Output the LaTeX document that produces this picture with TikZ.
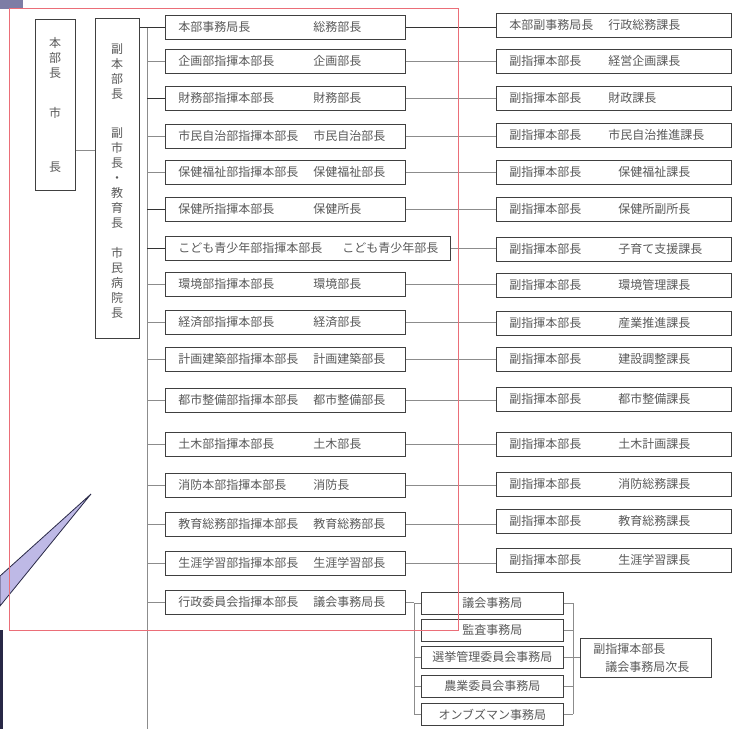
\documentclass[tikz,border=0pt]{standalone}
\usepackage{fontspec}
\setmainfont{Noto Sans CJK JP}
\definecolor{redframe}{RGB}{235,110,120}
\definecolor{callfill}{RGB}{190,185,230}
\definecolor{calldraw}{RGB}{40,40,70}
\definecolor{cornerpurple}{RGB}{125,125,165}
\tikzset{
  box/.style={draw=black!75, line width=0.8pt, anchor=north west, minimum height=24pt,
    inner xsep=13pt, inner ysep=0pt, align=left, text width=214pt,
    font=\fontsize{12}{14}\selectfont, text=black!65},
  rbox/.style={box, text width=209pt},
  sbox/.style={draw=black!75, line width=0.8pt, anchor=north west, minimum width=142pt,
    minimum height=22pt, inner sep=0pt, font=\fontsize{12}{14}\selectfont, text=black!65},
  vbox/.style={draw=black!75, line width=0.8pt, anchor=north west, inner sep=0pt},
  vtext/.style={align=center, inner sep=0pt, font=\fontsize{12}{15}\selectfont, text=black!65},
  link/.style={draw=black!45, line width=0.6pt},
  dklink/.style={draw=black!80, line width=0.7pt}
}
\begin{document}
\begin{tikzpicture}[x=1pt, y=-1pt]
\useasboundingbox (0,0) rectangle (735,729);
% Marks at the edges
\fill[cornerpurple] (0,0) rectangle (23,9);
\filldraw[fill=callfill, draw=calldraw, line width=0.8pt] (0,576) -- (91,494) -- (0,606) -- cycle;
\fill[calldraw] (0,630) rectangle (2.5,729);
% Head boxes
\node[vbox, minimum width=40pt, minimum height=171pt] (hq) at (35,19) {};
\node[vtext] (hqa) at (55,58) {本\\部\\長};
\node[vtext] (hqb) at (55,113) {市};
\node[vtext] (hqc) at (55,167) {長};
\node[vbox, minimum width=44pt, minimum height=320pt] (vice) at (95,18) {};
\node[vtext] (vicea) at (117,72) {副\\本\\部\\長};
\node[vtext] (viceb) at (117,178) {副\\市\\長\\・\\教\\育\\長};
\node[vtext] (vicec) at (117,283) {市\\民\\病\\院\\長};
% Middle column
\node[box] (m1) at (165,15) {\makebox[135pt][l]{本部事務局長}総務部長};
\node[box] (m2) at (165,49) {\makebox[135pt][l]{企画部指揮本部長}企画部長};
\node[box] (m3) at (165,86) {\makebox[135pt][l]{財務部指揮本部長}財務部長};
\node[box] (m4) at (165,124) {\makebox[135pt][l]{市民自治部指揮本部長}市民自治部長};
\node[box] (m5) at (165,160) {\makebox[135pt][l]{保健福祉部指揮本部長}保健福祉部長};
\node[box] (m6) at (165,197) {\makebox[135pt][l]{保健所指揮本部長}保健所長};
\node[box, text width=259pt] (m7) at (165,236) {\makebox[164pt][l]{こども青少年部指揮本部長}こども青少年部長};
\node[box] (m8) at (165,272) {\makebox[135pt][l]{環境部指揮本部長}環境部長};
\node[box] (m9) at (165,310) {\makebox[135pt][l]{経済部指揮本部長}経済部長};
\node[box] (m10) at (165,347) {\makebox[135pt][l]{計画建築部指揮本部長}計画建築部長};
\node[box] (m11) at (165,388) {\makebox[135pt][l]{都市整備部指揮本部長}都市整備部長};
\node[box] (m12) at (165,432) {\makebox[135pt][l]{土木部指揮本部長}土木部長};
\node[box] (m13) at (165,473) {\makebox[135pt][l]{消防本部指揮本部長}消防長};
\node[box] (m14) at (165,512) {\makebox[135pt][l]{教育総務部指揮本部長}教育総務部長};
\node[box] (m15) at (165,551) {\makebox[135pt][l]{生涯学習部指揮本部長}生涯学習部長};
\node[box] (m16) at (165,590) {\makebox[135pt][l]{行政委員会指揮本部長}議会事務局長};
% Right column
\node[rbox] (r1) at (496,13) {\makebox[99pt][l]{本部副事務局長}行政総務課長};
\node[rbox] (r2) at (496,49) {\makebox[99pt][l]{副指揮本部長}経営企画課長};
\node[rbox] (r3) at (496,86) {\makebox[99pt][l]{副指揮本部長}財政課長};
\node[rbox] (r4) at (496,123) {\makebox[99pt][l]{副指揮本部長}市民自治推進課長};
\node[rbox] (r5) at (496,160) {\makebox[109pt][l]{副指揮本部長}保健福祉課長};
\node[rbox] (r6) at (496,197) {\makebox[109pt][l]{副指揮本部長}保健所副所長};
\node[rbox] (r7) at (496,237) {\makebox[109pt][l]{副指揮本部長}子育て支援課長};
\node[rbox] (r8) at (496,273) {\makebox[109pt][l]{副指揮本部長}環境管理課長};
\node[rbox] (r9) at (496,311) {\makebox[109pt][l]{副指揮本部長}産業推進課長};
\node[rbox] (r10) at (496,347) {\makebox[109pt][l]{副指揮本部長}建設調整課長};
\node[rbox] (r11) at (496,387) {\makebox[109pt][l]{副指揮本部長}都市整備課長};
\node[rbox] (r12) at (496,432) {\makebox[109pt][l]{副指揮本部長}土木計画課長};
\node[rbox] (r13) at (496,472) {\makebox[109pt][l]{副指揮本部長}消防総務課長};
\node[rbox] (r14) at (496,509) {\makebox[109pt][l]{副指揮本部長}教育総務課長};
\node[rbox] (r15) at (496,548) {\makebox[109pt][l]{副指揮本部長}生涯学習課長};
% Committee offices
\node[sbox] (g1) at (421,592) {議会事務局};
\node[sbox] (g2) at (421,619) {監査事務局};
\node[sbox] (g3) at (421,646) {選挙管理委員会事務局};
\node[sbox] (g4) at (421,675) {農業委員会事務局};
\node[sbox] (g5) at (421,703) {オンブズマン事務局};
\node[box, text width=105pt, minimum height=39pt, font=\fontsize{12}{18}\selectfont] (dv) at (580,638)
  {副指揮本部長\\\hspace*{12pt}議会事務局次長};
% Edges
\coordinate (bustop) at (147,27);
\coordinate (busend) at (147,729);
\coordinate (gl) at (414,600);
\coordinate (gr) at (573,600);
\draw[link] (hq.east |- 0,150) -- (vice.west |- 0,150);
\draw[link] (bustop) -- (busend);
\draw[dklink] (vice.east |- m1.west) -- (m1.west);
\foreach \i in {3,6,7}
  \draw[dklink] (m\i.west -| bustop) -- (m\i.west);
\foreach \i in {2,4,5,8,9,...,16}
  \draw[link] (m\i.west -| bustop) -- (m\i.west);
\draw[dklink] (m1.east) -- (m1.east -| r1.west);
\foreach \i in {2,...,15}
  \draw[link] (m\i.east) -- (m\i.east -| r\i.west);
\draw[link] (m16.east) -- (m16.east -| gl);
\draw[link] (g1.west -| gl) -- (g5.west -| gl);
\draw[link] (g1.east -| gr) -- (g5.east -| gr);
\foreach \i in {1,...,5} {
  \draw[link] (g\i.west -| gl) -- (g\i.west);
  \draw[link] (g\i.east) -- (g\i.east -| gr);
}
\draw[link] (g3.east -| gr) -- (g3.east -| dv.west);
% Red frame
\draw[redframe, line width=0.8pt] (9,8) rectangle (458,630);
\end{tikzpicture}
\end{document}
